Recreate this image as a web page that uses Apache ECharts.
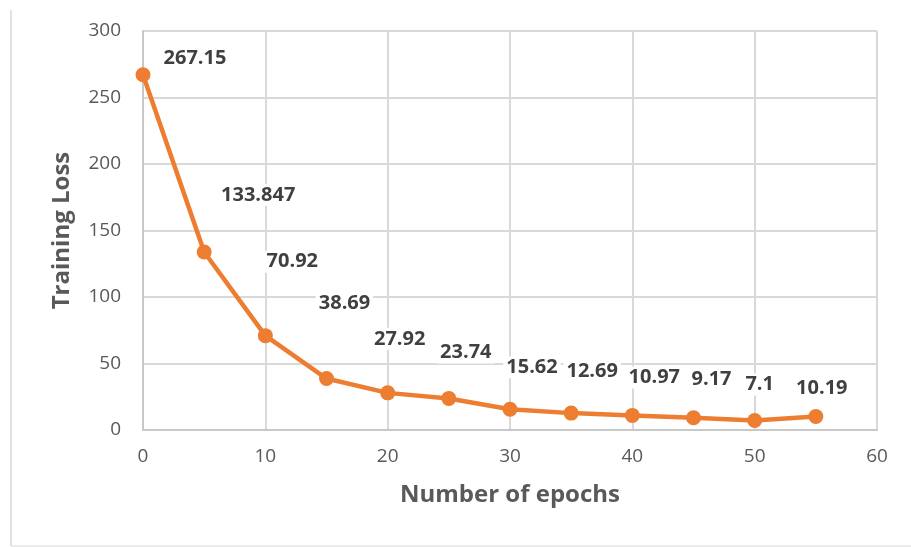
<!DOCTYPE html>
<html>
<head>
<meta charset="utf-8">
<script src="https://cdn.jsdelivr.net/npm/echarts@6/dist/echarts.min.js"></script>
<style>html,body{margin:0;padding:0;background:#fff}#c{width:911px;height:547px}</style>
</head>
<body>
<div id="c"></div>
<script>
const epochs = [0, 5, 10, 15, 20, 25, 30, 35, 40, 45, 50, 55];
const loss = [267.15, 133.847, 70.92, 38.69, 27.92, 23.74, 15.62, 12.69, 10.97, 9.17, 7.1, 10.19];
const xTitle = 'Number of epochs';
const yTitle = 'Training Loss';

// label placement (pixels relative to each point), styling only
const labelOffsets = [[52,-16],[54,-57],[27,-74],[18,-75],[12,-54],[17,-46],[22,-42],[21,-42],[22,-38],[18,-39],[5,-36],[6,-28]];

const font = '"Open Sans", "Liberation Sans", sans-serif';
const chart = echarts.init(document.getElementById('c'), null, {renderer: 'canvas'});
chart.setOption({
  animation: false,
  backgroundColor: '#fff',
  grid: {left: 143, right: 34, top: 31, bottom: 117},
  xAxis: {
    type: 'value', min: 0, max: 60, interval: 10,
    name: xTitle, nameLocation: 'middle', nameGap: 53,
    nameTextStyle: {fontFamily: font, fontWeight: 'bold', fontSize: 24, color: '#595959'},
    axisLine: {show: true, lineStyle: {color: '#c8c8c8', width: 2}},
    axisTick: {show: false},
    axisLabel: {fontFamily: font, fontSize: 19, color: '#595959', margin: 17},
    splitLine: {show: true, lineStyle: {color: '#d9d9d9', width: 2}}
  },
  yAxis: {
    type: 'value', min: 0, max: 300, interval: 50,
    name: yTitle, nameLocation: 'middle', nameGap: 69, nameRotate: 90,
    nameTextStyle: {fontFamily: font, fontWeight: 'bold', fontSize: 24, color: '#595959'},
    axisLine: {show: true, lineStyle: {color: '#c8c8c8', width: 2}},
    axisTick: {show: false},
    axisLabel: {fontFamily: font, fontSize: 19, color: '#595959', margin: 22},
    splitLine: {show: true, lineStyle: {color: '#d9d9d9', width: 2}}
  },
  series: [{
    type: 'line',
    data: epochs.map((x, i) => ({
      value: [x, loss[i]],
      label: {offset: labelOffsets[i]}
    })),
    symbol: 'circle', symbolSize: 15,
    lineStyle: {color: '#ED7D31', width: 4.5},
    itemStyle: {color: '#ED7D31'},
    label: {
      show: true, position: 'inside',
      formatter: p => String(loss[p.dataIndex]),
      fontFamily: font, fontWeight: 'bold', fontSize: 20, color: '#404040',
      backgroundColor: '#fff', padding: [1, 3]
    }
  }],
  graphic: [
    {type: 'line', shape: {x1: 11, y1: 10, x2: 11, y2: 546}, style: {stroke: '#d9d9d9', lineWidth: 1.5}},
    {type: 'line', shape: {x1: 11, y1: 546, x2: 911, y2: 546}, style: {stroke: '#e6e6e6', lineWidth: 1.5}}
  ]
});
</script>
</body>
</html>
